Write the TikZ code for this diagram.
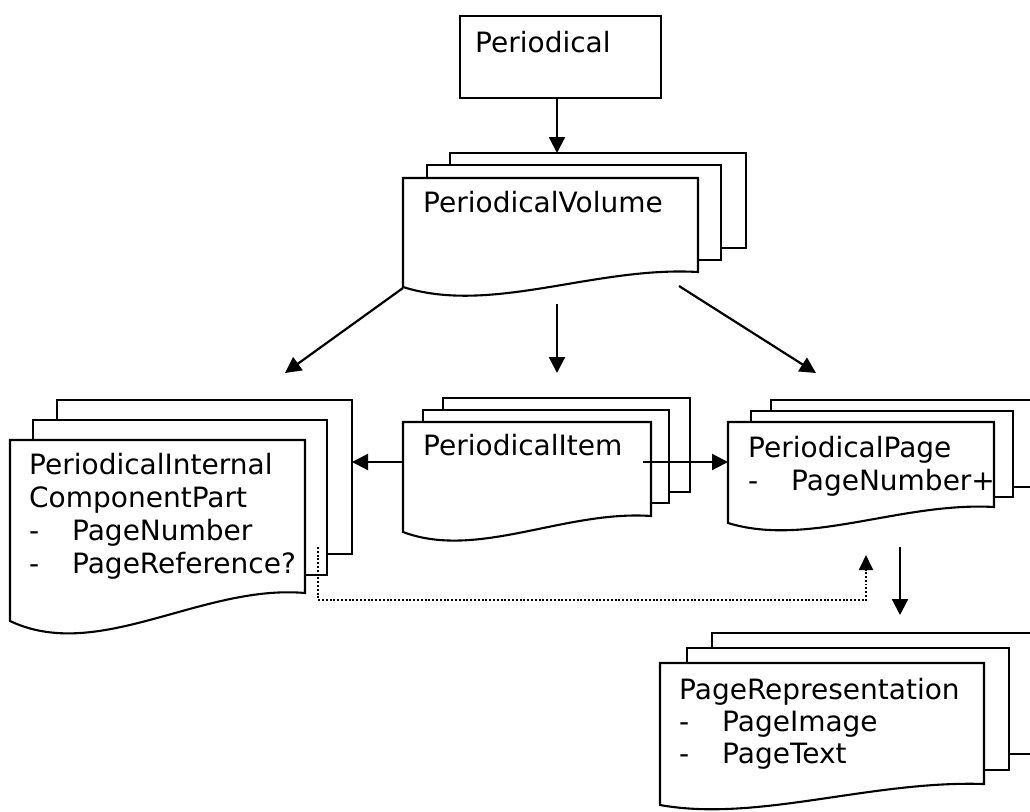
\documentclass[tikz,border=0pt]{standalone}
\usepackage{fontspec}
\setmainfont{DejaVu Sans}
\usetikzlibrary{arrows.meta}

\tikzset{
  sheet/.style={draw=black, fill=white, line width=2.1pt, line join=miter},
  txt/.style={anchor=base west, inner sep=0pt, font=\fontsize{28}{33}\selectfont},
  flow/.style={line width=2.2pt, -{Triangle[length=16pt,width=16pt]}},
  refline/.style={line width=1.9pt, dash pattern=on 1.9pt off 1.9pt, -{Triangle[length=15pt,width=14pt]}},
}

% a plain sheet of a stack: left, top, right, bottom
\newcommand{\backsheet}[4]{\path[sheet] (#1,#2) rectangle (#3,#4);}
% the front sheet with a wavy lower edge:
% left, top, right, bottom at right, bottom at left, depth of the wave
\newcommand{\frontsheet}[6]{%
  \path[sheet] (#1,#2) -- (#3,#2) -- (#3,#4)
    .. controls ({#1+0.65*(#3-#1)},{#4-0.75*#6}) and ({#1+0.3*(#3-#1)},{#5+3.5*#6}) .. (#1,#5) -- cycle;}
\newcommand{\bullitem}[1]{\makebox[43pt][l]{-}#1}

\begin{document}
\begin{tikzpicture}[x=1pt, y=-1pt]
  \clip (0,0) rectangle (1030,811);
  \fill[white] (0,0) rectangle (1030,811);

  % Periodical
  \node[draw, line width=2.1pt, minimum width=201pt, minimum height=82pt,
        anchor=north west, inner sep=0pt] (periodical) at (459,15) {};
  \node[txt] (periodicaltxt) at (475,52) {Periodical};

  % PeriodicalVolume stack
  \backsheet{450}{153}{746}{248}
  \backsheet{427}{165}{721}{260}
  \frontsheet{403}{178}{698}{272}{287}{8}
  \node[txt] (voltxt) at (423,212) {PeriodicalVolume};

  % PeriodicalInternalComponentPart stack
  \backsheet{57}{400}{352}{554}
  \backsheet{33}{420}{327}{575}
  \frontsheet{10}{440}{305}{593}{621}{12}
  \node[txt] (parttxta) at (29,474) {PeriodicalInternal};
  \node[txt] (parttxtb) at (29,507) {ComponentPart};
  \node[txt] (parttxtc) at (29,540) {\bullitem{PageNumber}};
  \node[txt] (parttxtd) at (29,573) {\bullitem{PageReference?}};

  % PeriodicalItem stack
  \backsheet{443}{398}{690}{492}
  \backsheet{423}{410}{669}{503}
  \frontsheet{403}{422}{651}{516}{532}{8}
  \node[txt] (itemtxt) at (423,455) {PeriodicalItem};

  % PeriodicalPage stack
  \backsheet{771}{400}{1045}{487}
  \backsheet{751}{411}{1013}{497}
  \frontsheet{728}{422}{994}{507}{523}{7}
  \node[txt] (pagetxta) at (748,457) {PeriodicalPage};
  \node[txt] (pagetxtb) at (748,490) {\bullitem{PageNumber+}};

  % PageRepresentation stack
  \backsheet{712}{633}{1045}{754}
  \backsheet{687}{648}{1009}{770}
  \frontsheet{660}{663}{984}{784}{805}{5}
  \node[txt] (reptxta) at (679,699) {PageRepresentation};
  \node[txt] (reptxtb) at (679,731) {\bullitem{PageImage}};
  \node[txt] (reptxtc) at (679,763) {\bullitem{PageText}};

  % connector ends
  \coordinate (vol-in)    at (557,153);
  \coordinate (vol-sw)    at (403,288);
  \coordinate (vol-s)     at (557,304);
  \coordinate (vol-se)    at (679,286);
  \coordinate (part-in)   at (285,373);
  \coordinate (item-in)   at (557,373);
  \coordinate (page-in)   at (816,373);
  \coordinate (item-w)    at (403,462);
  \coordinate (part-e)    at (352,462);
  \coordinate (item-e)    at (643,462);
  \coordinate (page-w)    at (728,462);
  \coordinate (part-ref)  at (318,547);
  \coordinate (ref-turn)  at (866,600);
  \coordinate (page-ref)  at (866,555);
  \coordinate (page-s)    at (900,547);
  \coordinate (rep-in)    at (900,615);

  % connectors
  \draw[flow] (periodical.south -| vol-in) -- (vol-in);
  \draw[flow] (vol-sw) -- (part-in);
  \draw[flow] (vol-s) -- (item-in);
  \draw[flow] (vol-se) -- (page-in);
  \draw[flow] (item-w) -- (part-e);
  \draw[flow] (item-e) -- (page-w);
  \draw[flow] (page-s) -- (rep-in);
  \draw[refline] (part-ref) |- (ref-turn) -- (page-ref);
\end{tikzpicture}
\end{document}
